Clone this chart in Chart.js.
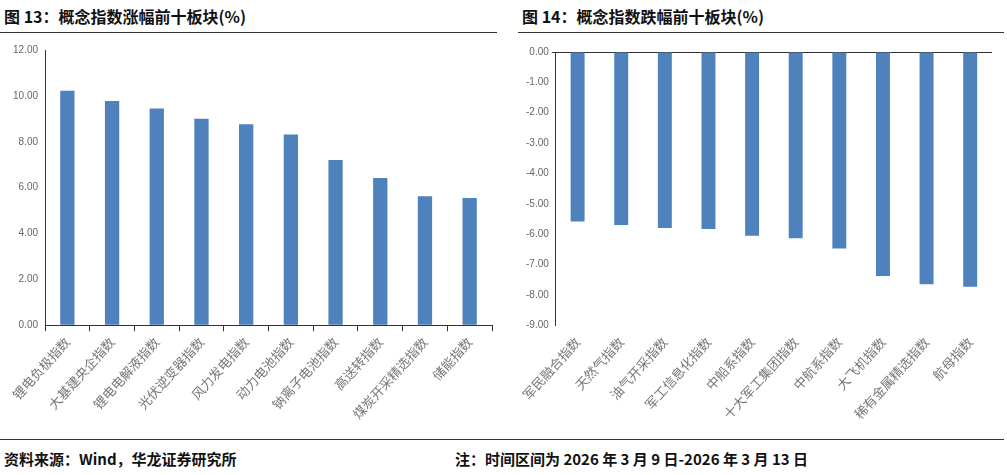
<!DOCTYPE html>
<html><head><meta charset="utf-8">
<script src="https://cdn.jsdelivr.net/npm/chart.js@4/dist/chart.umd.min.js"></script>
<style>
body{margin:0;width:1007px;height:475px;background:#fff;position:relative;font-family:"Noto Sans CJK SC",sans-serif;overflow:hidden}
.t{position:absolute;top:4px;font-size:16px;font-weight:bold;color:#111}
.hl{position:absolute;height:1px;background:#333}
.f{position:absolute;top:448px;font-size:15px;font-weight:bold;color:#111}
.c{position:absolute}
</style></head><body>
<div class="t" style="left:4px">图 13：概念指数涨幅前十板块(%)</div>
<div class="t" style="left:522px">图 14：概念指数跌幅前十板块(%)</div>
<div class="hl" style="left:0;top:32px;width:497px"></div>
<div class="hl" style="left:518px;top:32px;width:486px"></div>
<div class="hl" style="left:0;top:439px;width:1004px"></div>
<div class="f" style="left:4px">资料来源：Wind，华龙证券研究所</div>
<div class="f" style="left:455px">注：时间区间为 2026 年 3 月 9 日-2026 年 3 月 13 日</div>
<div class="c" style="left:0;top:40px;width:500px;height:385px"><canvas id="a"></canvas></div>
<div class="c" style="left:505px;top:40px;width:495px;height:385px"><canvas id="b"></canvas></div>
<script>
const upCats=["锂电负极指数","大基建央企指数","锂电电解液指数","光伏逆变器指数","风力发电指数","动力电池指数","钠离子电池指数","高送转指数","煤炭开采精选指数","储能指数"];
const upVals=[10.22,9.78,9.45,9.00,8.76,8.32,7.20,6.42,5.62,5.55];
const downCats=["军民融合指数","天然气指数","油气开采指数","军工信息化指数","中船系指数","十大军工集团指数","中航系指数","大飞机指数","稀有金属精选指数","航母指数"];
const downVals=[-5.58,-5.70,-5.80,-5.83,-6.05,-6.13,-6.47,-7.38,-7.65,-7.73];
const blue="#4F81BD";
const tickFont={family:"'Noto Sans CJK SC',serif",size:13};
function mk(id,cats,vals,min,max,step,left,top){
 return new Chart(document.getElementById(id),{type:'bar',
 data:{labels:cats,datasets:[{data:vals,backgroundColor:blue,barPercentage:0.32,categoryPercentage:1}]},
 options:{responsive:true,maintainAspectRatio:false,animation:false,
  layout:{padding:{top:top,right:8,left:left}},
  plugins:{legend:{display:false},tooltip:{enabled:false}},
  scales:{
   x:{grid:{display:min===0,drawOnChartArea:false,color:'#333',tickLength:6},border:{color:'#333',display:min===0},
      ticks:{color:'#777',font:tickFont,maxRotation:48,minRotation:48,autoSkip:false}},
   y:{min:min,max:max,ticks:{stepSize:step,color:'#666',font:{family:'Liberation Sans',size:10},callback:v=>v.toFixed(2)},
      grid:{color:c=>c.tick&&c.tick.value===0&&min<0?'#333':'rgba(0,0,0,0)',tickLength:4,drawTicks:true},border:{color:'#333'}}
  }}});
}
mk('a',upCats,upVals,0,12,2,10,10);
mk('b',downCats,downVals,-9,0,1,18,12);
</script>
</body></html>
